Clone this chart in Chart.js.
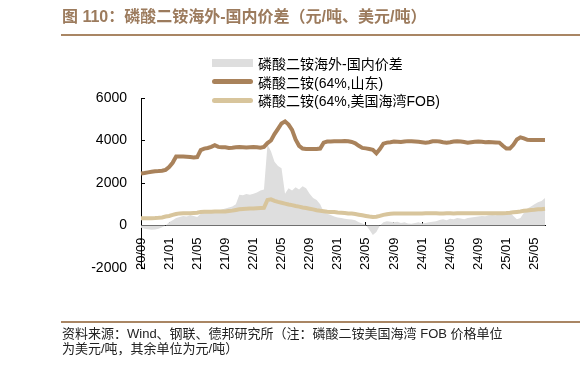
<!DOCTYPE html>
<html>
<head>
<meta charset="utf-8">
<script src="https://cdn.jsdelivr.net/npm/chart.js@4.4.1/dist/chart.umd.min.js"></script>
<style>
body { margin: 0; background: #fff; }
#wrap { position: relative; width: 582px; height: 371px; overflow: hidden;
        font-family: "Liberation Sans", "Noto Sans CJK SC", sans-serif; }
#title { position: absolute; left: 62px; top: 7px; font-size: 16px; font-weight: bold;
         color: #9c7b5d; line-height: 20px; white-space: nowrap; }
.rule { position: absolute; left: 61px; width: 519px; background: #a98664; }
#rule1 { top: 34px; height: 2px; }
#rule2 { top: 321px; height: 1.5px; }
#source { position: absolute; left: 62px; top: 326px; font-size: 13px; line-height: 15px;
          color: #222; white-space: nowrap; }
#legend { position: absolute; left: 212px; top: 54px; font-size: 14px; color: #000; }
.item { height: 18.5px; display: flex; align-items: center; white-space: nowrap; }
.sw { width: 41px; margin-right: 5px; }
canvas { position: absolute; left: 0; top: 0; }
</style>
</head>
<body>
<div id="wrap">
  <canvas id="chart" width="582" height="371"></canvas>
  <div id="title">图 110：磷酸二铵海外-国内价差（元/吨、美元/吨）</div>
  <div class="rule" id="rule1"></div>
  <div id="legend"></div>
  <div class="rule" id="rule2"></div>
  <div id="source">资料来源：Wind、钢联、德邦研究所（注：磷酸二铵美国海湾 FOB 价格单位<br>为美元/吨，其余单位为元/吨）</div>
</div>
<script>
// months on the axis, two readings per month (first half, second half)
const months = [
    '20/09', '20/10', '20/11', '20/12',
    '21/01', '21/02', '21/03', '21/04', '21/05', '21/06', '21/07', '21/08', '21/09', '21/10', '21/11', '21/12',
    '22/01', '22/02', '22/03', '22/04', '22/05', '22/06', '22/07', '22/08', '22/09', '22/10', '22/11', '22/12',
    '23/01', '23/02', '23/03', '23/04', '23/05', '23/06', '23/07', '23/08', '23/09', '23/10', '23/11', '23/12',
    '24/01', '24/02', '24/03', '24/04', '24/05', '24/06', '24/07', '24/08', '24/09', '24/10', '24/11', '24/12',
    '25/01', '25/02', '25/03', '25/04', '25/05', '25/06'
];

// 磷酸二铵海外-国内价差 (元/吨)
const spread = [
    -100, -150, -180, -200, -190, -150, -80, 0,
    150, 250, 350, 400, 450, 420, 480, 450,
    400, 550, 600, 650, 700, 650, 700, 750,
    800, 850, 900, 1000, 1450, 1420, 1480, 1450,
    1500, 1550, 1650, 1700, 3800, 3500, 3000, 2800,
    2700, 1500, 1750, 1650, 1800, 1700, 1850, 1750,
    1500, 1300, 1200, 1000, 650, 550, 500, 420,
    380, 350, 320, 300, 280, 250, 150, 100,
    20, -200, -450, -300, 0, 150, 200, 180,
    150, 180, 120, 150, 100, 80, 120, 150,
    100, 120, 150, 180, 200, 260, 300, 250,
    320, 300, 350, 330, 300, 350, 380, 400,
    420, 450, 430, 480, 500, 480, 520, 600,
    650, 620, 450, 300, 350, 600, 800, 900,
    1000, 1100, 1150, 1300
];

// 磷酸二铵(64%,山东) (元/吨)
const shandong = [
    2450, 2470, 2500, 2530, 2550, 2560, 2580, 2620,
    2750, 2950, 3250, 3250, 3250, 3240, 3220, 3200,
    3220, 3550, 3620, 3650, 3700, 3780, 3700, 3680,
    3680, 3650, 3660, 3680, 3690, 3680, 3670, 3680,
    3690, 3680, 3660, 3700, 3880, 4000, 4300, 4550,
    4800, 4900, 4750, 4500, 4050, 3750, 3620, 3600,
    3600, 3600, 3600, 3620, 3900, 3950, 3950, 3960,
    3970, 3970, 3980, 3960, 3930, 3870, 3750, 3650,
    3630, 3600, 3560, 3400, 3600, 3850, 3900, 3920,
    3950, 3940, 3930, 3950, 3970, 3960, 3950, 3940,
    3920, 3900, 3920, 3960, 3970, 3950, 3920, 3900,
    3920, 3950, 3960, 3950, 3930, 3900, 3920, 3940,
    3950, 3940, 3920, 3930, 3920, 3910, 3900, 3750,
    3620, 3620, 3800, 4050, 4150, 4100, 4030, 4020,
    4020, 4020, 4020, 4020
];

// 磷酸二铵(64%,美国海湾FOB) (美元/吨)
const usGulfFob = [
    340, 340, 340, 345, 350, 360, 380, 420,
    450, 500, 540, 570, 580, 580, 580, 590,
    600, 640, 650, 650, 650, 655, 660, 660,
    660, 680, 700, 730, 760, 780, 790, 800,
    800, 810, 820, 830, 1200, 1230, 1160, 1110,
    1070, 1030, 990, 960, 920, 890, 850, 820,
    790, 760, 720, 690, 670, 650, 640, 630,
    610, 600, 590, 570, 560, 540, 510, 480,
    450, 420, 400, 410, 450, 500, 530, 550,
    560, 565, 565, 570, 570, 570, 570, 570,
    570, 575, 575, 575, 575, 570, 570, 575,
    575, 570, 575, 575, 575, 575, 575, 575,
    575, 580, 580, 580, 580, 580, 580, 580,
    585, 600, 620, 640, 660, 690, 710, 730,
    740, 760, 770, 790
];

const yTicks = [-2000, 0, 2000, 4000, 6000];

const labels = months.flatMap(m => [m, m]);
const tickEvery = 8; // one label every 4 months

const chart = new Chart(document.getElementById('chart'), {
    type: 'line',
    data: {
        labels: labels,
        datasets: [{
            label: '磷酸二铵海外-国内价差',
            data: spread,
            fill: 'origin',
            backgroundColor: '#dedede',
            borderColor: 'rgba(0,0,0,0)',
            borderWidth: 0,
            pointRadius: 0,
            order: 10
        }, {
            label: '磷酸二铵(64%,山东)',
            data: shandong,
            borderColor: '#a9825b',
            backgroundColor: '#a9825b',
            borderWidth: 4,
            pointRadius: 0,
            fill: false,
            order: 1
        }, {
            label: '磷酸二铵(64%,美国海湾FOB)',
            data: usGulfFob,
            borderColor: '#d8c59c',
            backgroundColor: '#d8c59c',
            borderWidth: 4,
            pointRadius: 0,
            fill: false,
            order: 2
        }]
    },
    options: {
        responsive: false,
        animation: false,
        devicePixelRatio: 1,
        layout: {
            padding: { left: 61, top: 98, right: 37, bottom: 103 }
        },
        plugins: {
            legend: { display: false },
            tooltip: { enabled: false }
        },
        scales: {
            x: {
                type: 'category',
                position: { y: 0 },
                offset: false,
                afterBuildTicks: scale => {
                    scale.ticks = scale.ticks.filter((t, i) => i % tickEvery === 0);
                },
                grid: {
                    drawOnChartArea: false,
                    tickLength: -4,
                    tickColor: '#000'
                },
                border: { color: '#000', width: 1 },
                ticks: {
                    autoSkip: false,
                    minRotation: 90,
                    maxRotation: 90,
                    padding: 16,
                    color: '#000',
                    font: { family: 'Liberation Sans', size: 13 },
                    callback: function (value) {
                        return this.getLabelForValue(value);
                    }
                }
            },
            y: {
                min: yTicks[0],
                max: yTicks[yTicks.length - 1],
                afterFit: scale => { scale.width = 80; },
                afterBuildTicks: scale => {
                    scale.ticks = yTicks.map(v => ({ value: v }));
                },
                grid: {
                    drawOnChartArea: false,
                    tickLength: -4,
                    tickColor: '#000'
                },
                border: { color: '#000', width: 1 },
                ticks: {
                    padding: 18,
                    color: '#000',
                    font: { family: 'Liberation Sans', size: 14 },
                    callback: value => String(value)
                }
            }
        }
    }
});

// legend as a plain list, top to bottom, like the original
const legendBox = document.getElementById('legend');
chart.data.datasets.forEach(ds => {
    const row = document.createElement('div');
    row.className = 'item';
    const sw = document.createElement('span');
    sw.className = 'sw';
    if (ds.fill === 'origin') {
        sw.style.height = '8px';
        sw.style.background = ds.backgroundColor;
    } else {
        sw.style.height = '5px';
        sw.style.borderRadius = '3px';
        sw.style.background = ds.borderColor;
    }
    const txt = document.createElement('span');
    txt.textContent = ds.label;
    row.appendChild(sw);
    row.appendChild(txt);
    legendBox.appendChild(row);
});
</script>
</body>
</html>
